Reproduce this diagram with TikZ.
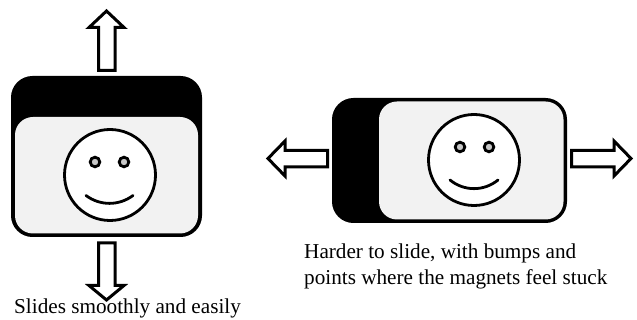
\documentclass[tikz,border=0pt]{standalone}
\usepackage{fontspec}
\setmainfont{Liberation Serif}
\definecolor{panel}{HTML}{F2F2F2}
\definecolor{eyefill}{HTML}{C8C8C8}
\tikzset{
  px/.style={x=1pt,y=-1pt},
  arrowshape/.style={draw=black,fill=white,line width=3pt,miter limit=10},
  outline/.style={draw=black,line width=3pt,fill=black,rounded corners=20pt},
  inner panel/.style={fill=panel,rounded corners=18pt},
  facecircle/.style={draw=black,line width=2.8pt,fill=white},
  eye/.style={draw=black,line width=2.8pt,fill=eyefill},
  smile/.style={draw=black,line width=2.8pt,line cap=round},
  caption/.style={font=\fontsize{21.2pt}{26pt}\selectfont,anchor=base west,inner sep=0pt,align=left}
}
\begin{document}
\begin{tikzpicture}[px]
\useasboundingbox (0,0) rectangle (637,320);
% left device
\draw[outline] (12.5,77.5) rectangle (200.5,235.5);
\fill[inner panel] (15,117) rectangle (198,233.5);
\draw[facecircle] (110,175) circle (45.5);
\draw[eye] (95,162) circle (4.8);
\draw[eye] (124,162) circle (4.8);
\draw[smile] (86,195.5) .. controls (100,206) and (119,206) .. (133,195.5);
% right device
\draw[outline] (333.5,99.5) rectangle (565.5,221.5);
\fill[inner panel] (379,101.5) rectangle (563.5,219.5);
\draw[facecircle] (474,160) circle (45.5);
\draw[eye] (460,147) circle (4.8);
\draw[eye] (489,147) circle (4.8);
\draw[smile] (450,180) .. controls (464,191.5) and (484,191.5) .. (498,180);
% arrows
\draw[arrowshape] (106.5,11) -- (124,27.5) -- (115,27.5) -- (115,70.5) -- (98.5,70.5) -- (98.5,27.5) -- (89,27.5) -- cycle;
\draw[arrowshape] (106.5,300) -- (124,285.5) -- (115,285.5) -- (115,243) -- (98.5,243) -- (98.5,285.5) -- (89,285.5) -- cycle;
\draw[arrowshape] (268,158.5) -- (285,141) -- (285,150.5) -- (327.5,150.5) -- (327.5,167) -- (285,167) -- (285,176) -- cycle;
\draw[arrowshape] (631,158.5) -- (614,141) -- (614,150.5) -- (571.5,150.5) -- (571.5,167) -- (614,167) -- (614,176) -- cycle;
% captions
\node[caption] (leftcap) at (14,313) {Slides smoothly and easily};
\node[caption] (rightcap) at (304,285) {Harder to slide, with bumps and\\points where the magnets feel stuck};
\end{tikzpicture}
\end{document}
